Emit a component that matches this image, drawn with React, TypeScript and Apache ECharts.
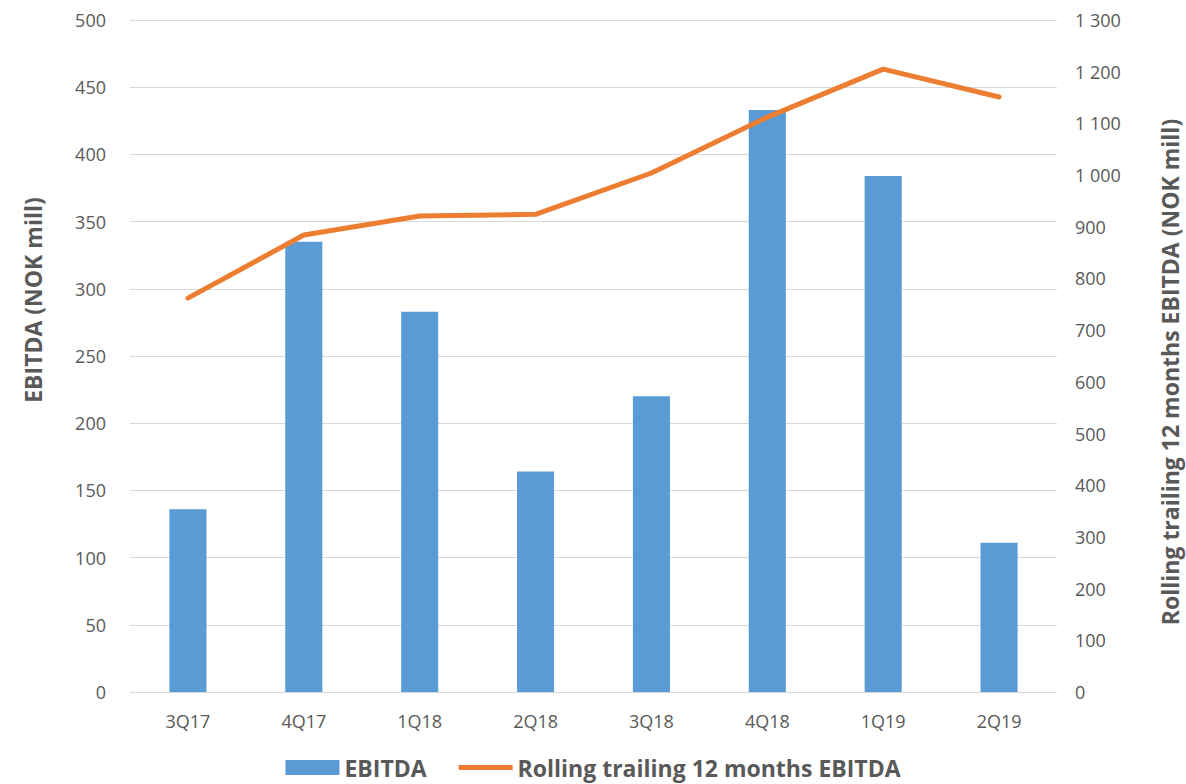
import React, { useEffect, useRef } from "react";
import * as echarts from "echarts";

const categories = ["3Q17", "4Q17", "1Q18", "2Q18", "3Q18", "4Q18", "1Q19", "2Q19"];
const ebitda = [136, 335, 283, 164, 220, 433, 384, 111];
const rolling = [762, 884, 921, 924, 1004, 1112, 1205, 1151];

const leftTitle = "EBITDA (NOK mill)";
const rightTitle = "Rolling trailing 12 months EBITDA (NOK mill)";

const FONT = "'Open Sans', 'Noto Sans', sans-serif";
const GREY = "#595959";

export default function App() {
  const ref = useRef<HTMLDivElement>(null);
  useEffect(() => {
    if (!ref.current) return;
    const chart = echarts.init(ref.current, undefined, { renderer: "svg" });
    chart.setOption({
      animation: false,
      backgroundColor: "#ffffff",
      textStyle: { fontFamily: FONT },
      grid: { left: 130, right: 129, top: 20, bottom: 92, containLabel: false },
      legend: {
        bottom: 0,
        left: "center",
        itemGap: 32,
        itemWidth: 54,
        itemHeight: 15,
        textStyle: { fontFamily: FONT, fontSize: 23, fontWeight: "bold", color: GREY },
        data: [
          { name: "EBITDA", icon: "rect" },
          {
            name: "Rolling trailing 12 months EBITDA",
            icon: "path://M0,5 L54,5 L54,10 L0,10 Z",
          },
        ],
      },
      xAxis: {
        type: "category",
        data: categories,
        axisLine: { show: false },
        axisTick: { show: false },
        axisLabel: { color: GREY, fontSize: 18, margin: 20, fontFamily: FONT },
      },
      yAxis: [
        {
          type: "value",
          min: 0,
          max: 500,
          interval: 50,
          axisLine: { show: false },
          axisTick: { show: false },
          axisLabel: { color: GREY, fontSize: 18, margin: 24, fontFamily: FONT },
          splitLine: { lineStyle: { color: "#D9D9D9", width: 1 } },
        },
        {
          type: "value",
          min: 0,
          max: 1300,
          interval: 100,
          axisLine: { show: false },
          axisTick: { show: false },
          splitLine: { show: false },
          axisLabel: {
            color: GREY,
            fontSize: 18,
            margin: 18,
            fontFamily: FONT,
            formatter: (v: number) => String(v).replace(/\B(?=(\d{3})+(?!\d))/g, " "),
          },
        },
      ],
      series: [
        {
          name: "EBITDA",
          type: "bar",
          data: ebitda,
          yAxisIndex: 0,
          barWidth: "32%",
          itemStyle: { color: "#5B9BD5" },
        },
        {
          name: "Rolling trailing 12 months EBITDA",
          type: "line",
          data: rolling,
          yAxisIndex: 1,
          symbol: "none",
          lineStyle: { color: "#ED7D31", width: 5, cap: "round", join: "round" },
          itemStyle: { color: "#ED7D31" },
        },
      ],
      graphic: [
        {
          type: "text",
          x: 33,
          y: 300,
          rotation: Math.PI / 2,
          style: {
            text: leftTitle,
            fontSize: 23,
            fontWeight: "bold",
            fontFamily: FONT,
            fill: GREY,
            align: "center",
            verticalAlign: "middle",
          },
        },
        {
          type: "text",
          x: 1170,
          y: 372,
          rotation: Math.PI / 2,
          style: {
            text: rightTitle,
            fontSize: 23,
            fontWeight: "bold",
            fontFamily: FONT,
            fill: GREY,
            align: "center",
            verticalAlign: "middle",
          },
        },
      ],
    });
    return () => chart.dispose();
  }, []);
  return (
    <div
      ref={ref}
      style={{ position: "absolute", left: 0, top: 0, width: 1186, height: 784 }}
    />
  );
}
